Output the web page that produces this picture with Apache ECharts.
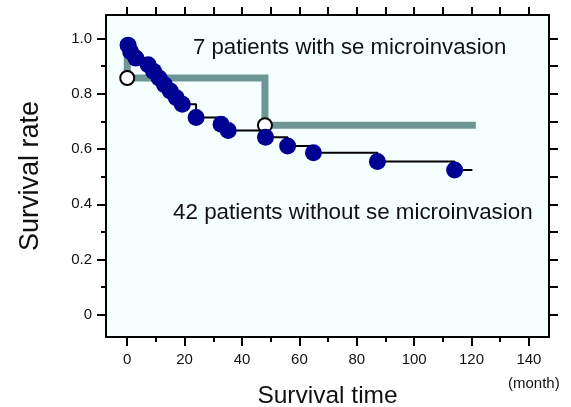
<!DOCTYPE html>
<html>
<head>
<meta charset="utf-8">
<script src="https://cdn.jsdelivr.net/npm/echarts@6/dist/echarts.min.js"></script>
<style>
html,body{margin:0;padding:0;background:#fff;}
#c{width:571px;height:407px;}
</style>
</head>
<body>
<div id="c"></div>
<script>
// ---- data ----
var xTicks = [0, 20, 40, 60, 80, 100, 120, 140];
var xMinorTicks = [10, 30, 50, 70, 90, 110, 130];
var xTopTicks = [0, 10, 20, 30, 40, 50, 60, 70, 80, 90, 100, 110, 120, 130, 140];
var yTicks = [0, 0.2, 0.4, 0.6, 0.8, 1.0];
var yMinorTicks = [0.1, 0.3, 0.5, 0.7, 0.9];
var yRightTicks = [0, 0.1, 0.2, 0.3, 0.4, 0.5, 0.6, 0.7, 0.8, 0.9, 1.0];

// 7 patients with se microinvasion (step curve) and its open-circle marks
var withTimes = [0, 0, 48, 121.5];
var withSurv  = [1.0, 0.857, 0.686, 0.686];
var withMarkTimes = [0, 48];
var withMarkSurv  = [0.857, 0.686];

// 42 patients without se microinvasion (step curve) and its filled marks
var withoutTimes = [0, 0.3, 1.2, 3, 7.3, 9.2, 11.1, 13, 15, 17.1, 19.2, 24, 32.7, 35.2, 48.2, 55.9, 64.9, 87.2, 114.1, 120.3];
var withoutSurv  = [1.0, 0.976, 0.952, 0.929, 0.905, 0.881, 0.857, 0.833, 0.81, 0.786, 0.762, 0.714, 0.69, 0.667, 0.643, 0.611, 0.587, 0.555, 0.524, 0.524];
var withoutMarkIdx = [1, 2, 3, 4, 5, 6, 7, 8, 9, 10, 11, 12, 13, 14, 15, 16, 17, 18];

function zip(a, b) { return a.map(function (v, i) { return [v, b[i]]; }); }

var FONT = 'Liberation Sans, Arial, Helvetica, sans-serif';
var GREEN = '#6e9695';
var BLUE = '#000093';

var chart = echarts.init(document.getElementById('c'), null, {renderer: 'canvas'});

var xRange = {min: -7.4, max: 147};
var yRange = {min: -0.08, max: 1.085};

var option = {
  animation: false,
  backgroundColor: '#ffffff',
  grid: {left: 106, right: 22, top: 15, bottom: 70, show: true, backgroundColor: '#f5ffff', borderWidth: 0,
    containLabel: false, outerBoundsMode: 'none'},
  xAxis: [
    {
      type: 'value', position: 'bottom', min: xRange.min, max: xRange.max,
      axisLine: {show: true, onZero: false, lineStyle: {color: '#000', width: 2}},
      axisTick: {show: true, customValues: xTicks, length: 9, lineStyle: {color: '#000', width: 2}},
      axisLabel: {show: true, customValues: xTicks, margin: 15, fontSize: 15, color: '#111', fontFamily: FONT},
      splitLine: {show: false},
      name: 'Survival time', nameLocation: 'middle', nameGap: 47,
      nameTextStyle: {fontSize: 24.5, color: '#111', fontFamily: FONT}
    },
    {
      type: 'value', position: 'bottom', min: xRange.min, max: xRange.max,
      axisLine: {show: false, onZero: false},
      axisTick: {show: true, customValues: xMinorTicks, length: 5, lineStyle: {color: '#000', width: 2}},
      axisLabel: {show: false}, splitLine: {show: false}
    },
    {
      type: 'value', position: 'top', min: xRange.min, max: xRange.max,
      axisLine: {show: true, onZero: false, lineStyle: {color: '#000', width: 2}},
      axisTick: {show: true, customValues: xTopTicks, length: 8, lineStyle: {color: '#000', width: 2}},
      axisLabel: {show: false}, splitLine: {show: false}
    }
  ],
  yAxis: [
    {
      type: 'value', position: 'left', min: yRange.min, max: yRange.max,
      axisLine: {show: true, onZero: false, lineStyle: {color: '#000', width: 2}},
      axisTick: {show: true, customValues: yTicks, length: 9, lineStyle: {color: '#000', width: 2}},
      axisLabel: {show: true, customValues: yTicks, margin: 14, fontSize: 15, color: '#111', fontFamily: FONT,
        formatter: function (v) { return v === 0 ? '0' : v.toFixed(1); }},
      splitLine: {show: false},
      name: 'Survival rate', nameLocation: 'middle', nameGap: 62,
      nameTextStyle: {fontSize: 27, color: '#111', fontFamily: FONT}
    },
    {
      type: 'value', position: 'left', min: yRange.min, max: yRange.max,
      axisLine: {show: false, onZero: false},
      axisTick: {show: true, customValues: yMinorTicks, length: 5, lineStyle: {color: '#000', width: 2}},
      axisLabel: {show: false}, splitLine: {show: false}
    },
    {
      type: 'value', position: 'right', min: yRange.min, max: yRange.max,
      axisLine: {show: true, onZero: false, lineStyle: {color: '#000', width: 2}},
      axisTick: {show: true, customValues: yRightTicks, length: 9, lineStyle: {color: '#000', width: 2}},
      axisLabel: {show: false}, splitLine: {show: false}
    }
  ],
  series: [
    {
      type: 'line', name: 'with', data: zip(withTimes, withSurv), step: 'end',
      symbol: 'none', z: 1,
      lineStyle: {color: GREEN, width: 7, cap: 'butt', join: 'miter'}
    },
    {
      type: 'scatter', name: 'withMarks', data: zip(withMarkTimes, withMarkSurv),
      symbol: 'circle', symbolSize: 14, z: 2,
      itemStyle: {color: '#ffffff', borderColor: '#000', borderWidth: 2, opacity: 1}
    },
    {
      type: 'line', name: 'without', data: zip(withoutTimes, withoutSurv), step: 'end',
      symbol: 'none', z: 3,
      lineStyle: {color: '#000', width: 2}
    },
    {
      type: 'scatter', name: 'withoutMarks',
      data: withoutMarkIdx.map(function (i) { return [withoutTimes[i], withoutSurv[i]]; }),
      symbol: 'circle', symbolSize: 17, z: 4,
      itemStyle: {color: BLUE, opacity: 1}
    }
  ],
  graphic: [
    {type: 'text', left: 193, top: 37, z: 10,
      style: {text: '7 patients with se microinvasion', fontSize: 22.2, fill: '#111', fontFamily: FONT}},
    {type: 'text', left: 173, top: 202, z: 10,
      style: {text: '42 patients without se microinvasion', fontSize: 22.4, fill: '#111', fontFamily: FONT}},
    {type: 'text', left: 508, top: 376, z: 10,
      style: {text: '(month)', fontSize: 15, fill: '#111', fontFamily: FONT}}
  ]
};
chart.setOption(option);
</script>
</body>
</html>
